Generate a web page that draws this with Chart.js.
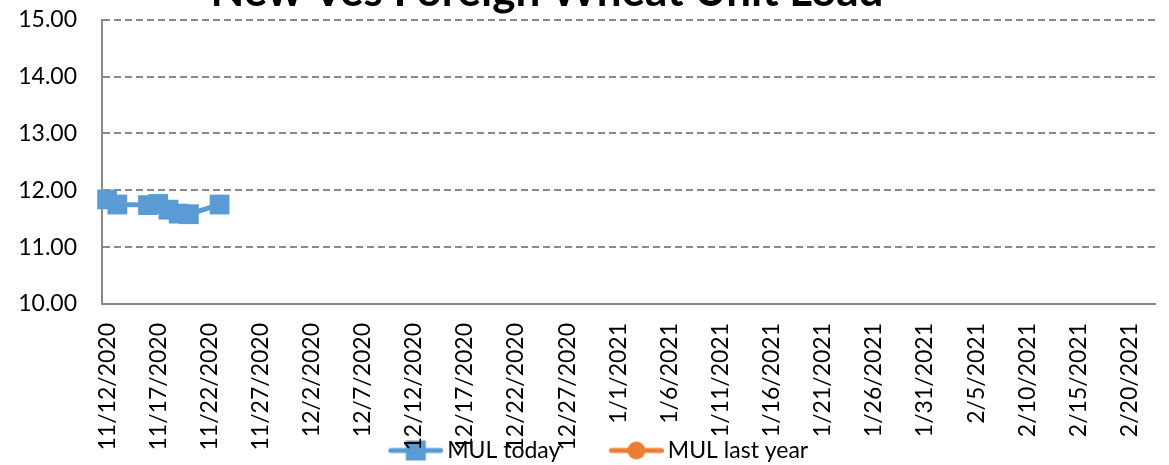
<!DOCTYPE html>
<html>
<head>
<meta charset="utf-8">
<script src="https://cdn.jsdelivr.net/npm/chart.js@4/dist/chart.umd.min.js"></script>
<style>
  html, body { margin: 0; padding: 0; background: #fff; }
  #wrap { position: relative; width: 1169px; height: 465px; overflow: hidden; }
  #myChart { position: absolute; left: 0; top: -40px; }
</style>
</head>
<body>
<div id="wrap"><canvas id="myChart" width="1169" height="537"></canvas></div>
<script>
var chartTitle = "New Ves Foreign Wheat Unit Load";

// dates on the axis (first and last day shown)
var axisStart = "11/12/2020";
var axisEnd = "2/22/2021";

var tickLabels = [
  "11/12/2020", "11/17/2020", "11/22/2020", "11/27/2020", "12/2/2020",
  "12/7/2020", "12/12/2020", "12/17/2020", "12/22/2020", "12/27/2020",
  "1/1/2021", "1/6/2021", "1/11/2021", "1/16/2021", "1/21/2021",
  "1/26/2021", "1/31/2021", "2/5/2021", "2/10/2021", "2/15/2021", "2/20/2021",
];

var todayDates = ["11/12/2020", "11/13/2020", "11/16/2020", "11/17/2020", "11/18/2020", "11/19/2020", "11/20/2020", "11/23/2020"];
var mulToday = [11.84, 11.75, 11.74, 11.76, 11.66, 11.59, 11.58, 11.75];

var lastYearDates = [];
var mulLastYear = [];

var yTicks = [10, 11, 12, 13, 14, 15];

var blue = "#5b9bd5";
var orange = "#ed7d31";
var gray = "#898989";
var font = "Lato";

function dayOf(s) {
  var p = s.split("/");
  var t = Date.UTC(+p[2], +p[0] - 1, +p[1]);
  var p0 = axisStart.split("/");
  var t0 = Date.UTC(+p0[2], +p0[0] - 1, +p0[1]);
  return Math.round((t - t0) / 86400000);
}

var labelByDay = {};
tickLabels.forEach(function (l) { labelByDay[dayOf(l)] = l; });

function legendIcon(color, shape) {
  var c = document.createElement("canvas");
  c.width = 101;
  c.height = 26;
  var g = c.getContext("2d");
  g.strokeStyle = color;
  g.lineWidth = 5;
  g.lineCap = "round";
  g.beginPath();
  g.moveTo(101 - 55 + 2.5, 13);
  g.lineTo(101 - 2.5, 13);
  g.stroke();
  g.fillStyle = color;
  if (shape == "rect") {
    g.fillRect(101 - 27.5 - 10, 3, 20, 20);
  } else {
    g.beginPath();
    g.arc(101 - 27.5, 13, 9, 0, Math.PI * 2);
    g.fill();
  }
  return c;
}

function toPoints(dates, values) {
  return dates.map(function (d, i) { return { x: dayOf(d), y: values[i] }; });
}

// legend sits over the bottom of the date labels, title a bit left of centre
var nudge = {
  id: "nudge",
  afterLayout: function (chart) {
    chart.legend.top -= 25;
    chart.legend.bottom -= 25;
    chart.titleBlock.left -= 32;
    chart.titleBlock.right -= 32;
  },
};

const ctx = document.getElementById("myChart");

new Chart(ctx, {
  type: "line",
  data: {
    datasets: [
      {
        label: "MUL today",
        data: toPoints(todayDates, mulToday),
        borderColor: blue,
        backgroundColor: blue,
        borderWidth: 5,
        pointStyle: "rect",
        pointRadius: 14,
        pointHoverRadius: 14,
        pointBackgroundColor: blue,
        pointBorderColor: blue,
        pointBorderWidth: 0,
        tension: 0,
        clip: false,
      },
      {
        label: "MUL last year",
        data: toPoints(lastYearDates, mulLastYear),
        borderColor: orange,
        backgroundColor: orange,
        borderWidth: 5,
        pointStyle: "circle",
        pointRadius: 9,
        tension: 0,
        clip: false,
      },
    ],
  },
  plugins: [nudge],
  options: {
    responsive: false,
    animation: false,
    events: [],
    layout: { padding: { left: 0, right: 11, top: 0, bottom: 0 } },
    plugins: {
      title: {
        display: true,
        text: chartTitle,
        color: "#000",
        font: { family: font, size: 44, weight: "bold" },
        padding: { top: 5, bottom: 2 },
      },
      legend: {
        position: "bottom",
        labels: {
          usePointStyle: true,
          pointStyleWidth: 86,
          padding: 10,
          color: "#000",
          font: { family: font, size: 23 },
          generateLabels: function (chart) {
            return chart.data.datasets.map(function (ds, i) {
              return {
                text: ds.label,
                pointStyle: legendIcon(ds.borderColor, ds.pointStyle),
                fillStyle: ds.borderColor,
                strokeStyle: ds.borderColor,
                lineWidth: 0,
                hidden: false,
                datasetIndex: i,
                fontColor: "#000",
              };
            });
          },
        },
      },
      tooltip: { enabled: false },
    },
    scales: {
      x: {
        type: "linear",
        min: dayOf(axisStart) - 0.5,
        max: dayOf(axisEnd) + 0.5,
        grid: { display: false, drawTicks: false },
        border: { display: true, color: gray, width: 2 },
        afterBuildTicks: function (scale) {
          scale.ticks = tickLabels.map(function (l) { return { value: dayOf(l) }; });
        },
        afterFit: function (scale) {
          scale.height = 150;
          scale.paddingLeft = 0;
          scale.paddingRight = 0;
        },
        ticks: {
          autoSkip: false,
          minRotation: 90,
          maxRotation: 90,
          padding: 19,
          color: "#000",
          font: { family: font, size: 23 },
          callback: function (v) {
            return labelByDay[v];
          },
        },
      },
      y: {
        min: 10,
        max: 15,
        afterBuildTicks: function (scale) {
          scale.ticks = yTicks.map(function (v) { return { value: v }; });
        },
        afterFit: function (scale) {
          scale.width = 102;
        },
        grid: {
          drawTicks: false,
          lineWidth: 2,
          color: function (c) {
            return c.tick && c.tick.value === 10 ? "rgba(0,0,0,0)" : gray;
          },
        },
        border: { display: true, color: gray, width: 2, dash: [7, 4] },
        ticks: {
          padding: 25,
          color: "#000",
          font: { family: font, size: 23 },
          callback: function (v) {
            return v.toFixed(2);
          },
        },
      },
    },
  },
});
</script>
</body>
</html>
